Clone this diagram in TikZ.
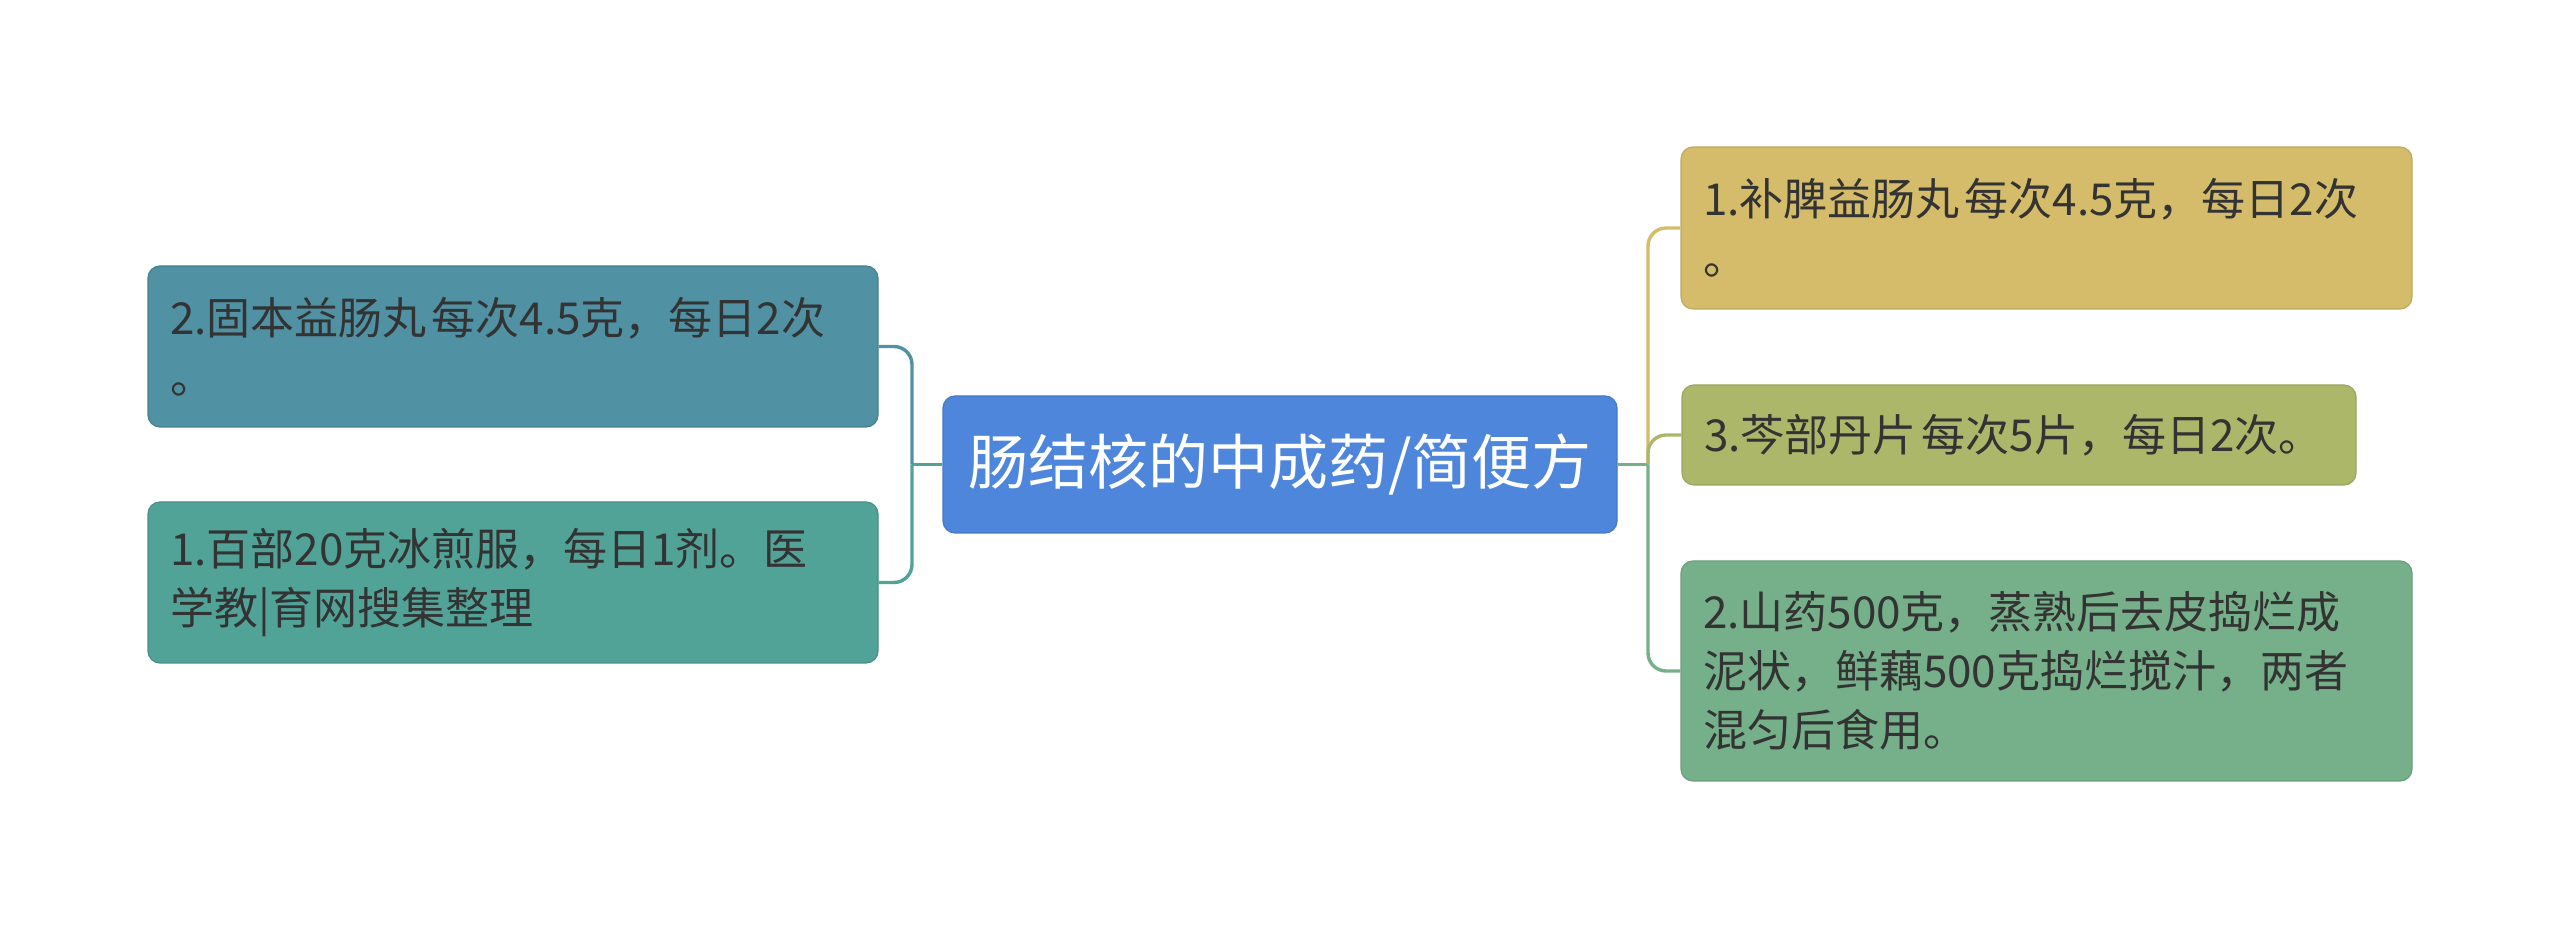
\documentclass[tikz,border=0pt]{standalone}
\usepackage{fontspec}
\setmainfont{Noto Sans CJK SC}
\definecolor{TopicBlue}{RGB}{78,134,219}
\definecolor{LeftTeal}{RGB}{80,145,163}
\definecolor{LeftGreen}{RGB}{82,163,151}
\definecolor{RightGold}{RGB}{212,188,106}
\definecolor{RightOlive}{RGB}{172,183,106}
\definecolor{RightGreen}{RGB}{118,176,138}
\definecolor{InkGray}{RGB}{51,51,51}
\newcommand{\gapsp}{\hspace{0.12em}}
\tikzset{
  topicbox/.style={draw=TopicBlue!90!black,fill=TopicBlue,rounded corners=6pt,line width=0.6pt,
    minimum width=337pt,minimum height=68.5pt,align=center,text=white,
    font=\fontsize{30}{36}\selectfont},
  leafbox/.style={rounded corners=6pt,line width=0.6pt,inner xsep=11pt,inner ysep=0pt,
    align=left,text=InkGray,font=\fontsize{22}{29.5}\selectfont},
  branch/.style={line width=1.7pt,rounded corners=9pt}
}
\begin{document}
\begin{tikzpicture}[x=0.5pt,y=-0.5pt]
\useasboundingbox (0,0) rectangle (2560,929);
% central topic
\node[topicbox] (topic) at (1280,464.5) {肠结核的中成药/简便方};
% left side
\node[leafbox,draw=LeftTeal!88!black,fill=LeftTeal,minimum width=365pt,text width=343pt,minimum height=80.5pt] (gb) at (513,346.5) {2.固本益肠丸\gapsp 每次4.5克，每日2次\\。};
\node[leafbox,draw=LeftGreen!88!black,fill=LeftGreen,minimum width=365pt,text width=343pt,minimum height=80.5pt] (bb) at (513,582.5) {1.百部20克冰煎服，每日1剂。医\\学教|育网搜集整理};
% right side
\node[leafbox,draw=RightGold!90!black,fill=RightGold,minimum width=365.5pt,text width=343.5pt,minimum height=81pt] (bp) at (2046.5,228) {1.补脾益肠丸\gapsp 每次4.5克，每日2次\\。};
\node[leafbox,draw=RightOlive!90!black,fill=RightOlive,minimum width=337pt,text width=315pt,minimum height=50pt] (qb) at (2019,435) {3.芩部丹片\gapsp 每次5片，每日2次。};
\node[leafbox,draw=RightGreen!90!black,fill=RightGreen,minimum width=365.5pt,text width=343.5pt,minimum height=110pt] (sy) at (2046.5,671) {2.山药500克，蒸熟后去皮捣烂成\\泥状，鲜藕500克捣烂搅汁，两者\\混匀后食用。};
% connectors
\coordinate (lj) at (912,464.5);
\coordinate (rj) at (1648,464.5);
\draw[branch,LeftGreen] (topic.west) -- (lj);
\draw[branch,LeftTeal] (gb.east) -| (lj);
\draw[branch,LeftGreen] (bb.east) -| (lj);
\draw[branch,RightGreen] (topic.east) -- (rj);
\draw[branch,RightGold] (bp.west) -| (rj);
\draw[branch,RightOlive] (qb.west) -| (rj);
\draw[branch,RightGreen] (sy.west) -| (rj);
\end{tikzpicture}
\end{document}
